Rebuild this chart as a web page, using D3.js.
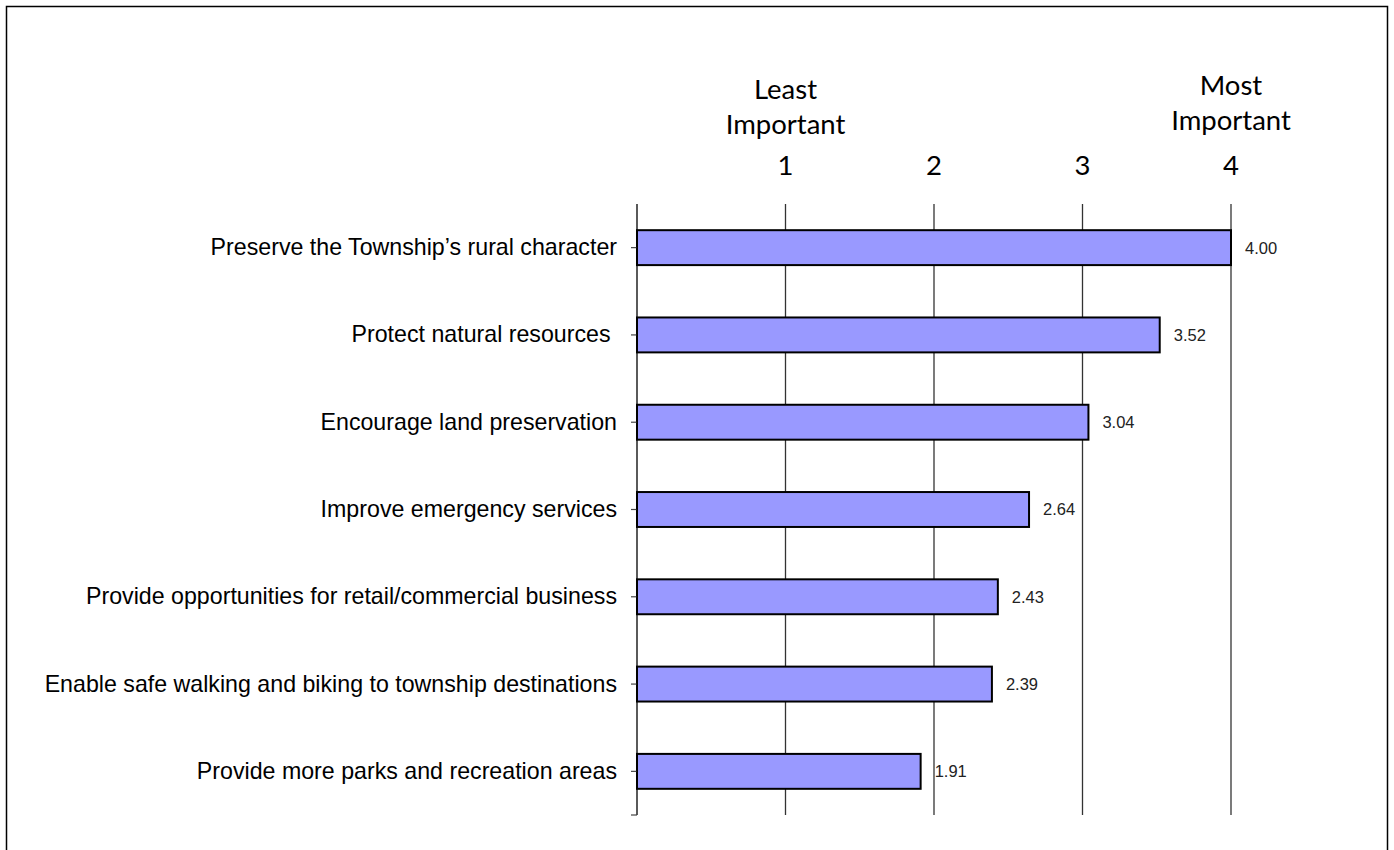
<!DOCTYPE html>
<html>
<head>
<meta charset="utf-8">
<script src="https://cdn.jsdelivr.net/npm/d3@7/dist/d3.min.js"></script>
<style>
  html, body { margin: 0; padding: 0; background: #fff; }
  svg { display: block; }
  text { white-space: pre; }
</style>
</head>
<body>
<svg id="chart" width="1394" height="850"></svg>
<script>
const categories = [
  "Preserve the Township\u2019s rural character",
  "Protect natural resources ",
  "Encourage land preservation",
  "Improve emergency services",
  "Provide opportunities for retail/commercial business",
  "Enable safe walking and biking to township destinations",
  "Provide more parks and recreation areas"
];
const values = [4.00, 3.52, 3.04, 2.64, 2.43, 2.39, 1.91];
const tickValues = [1, 2, 3, 4];
const endLabels = [
  { at: 1, lines: ["Least", "Important"] },
  { at: 4, lines: ["Most", "Important"] }
];

const svg = d3.select("#chart");

svg.append("rect")
  .attr("x", 6.5).attr("y", 6.5)
  .attr("width", 1381).attr("height", 860)
  .attr("fill", "none").attr("stroke", "#000").attr("stroke-width", 1.5);

const x = d3.scaleLinear().domain([0, 4]).range([637, 1231]);
const y = d3.scaleBand().domain(categories).range([204, 815])
  .paddingInner(0.6).paddingOuter(0.3);

// gridlines
svg.append("g").selectAll("line").data(tickValues).join("line")
  .attr("x1", d => x(d)).attr("x2", d => x(d))
  .attr("y1", 204).attr("y2", 815)
  .attr("stroke", "#333").attr("stroke-width", 1.3);

// top tick labels
const topG = svg.append("g").attr("font-family", "Lato, 'Open Sans', sans-serif")
  .attr("font-size", 27.5).attr("fill", "#000").attr("text-anchor", "middle");
topG.selectAll("text.num").data(tickValues).join("text").attr("class", "num")
  .attr("x", d => x(d)).attr("y", 175).text(d => d);
endLabels.forEach(l => {
  const base = l.at === 1 ? 99 : 95;
  l.lines.forEach((t, i) => {
    topG.append("text").attr("x", x(l.at)).attr("y", base + i * 35).text(t);
  });
});

// bars
svg.append("g").selectAll("rect").data(values).join("rect")
  .attr("x", x(0)).attr("y", (d, i) => y(categories[i]))
  .attr("width", d => x(d) - x(0)).attr("height", y.bandwidth())
  .attr("fill", "#9999FF").attr("stroke", "#000").attr("stroke-width", 2);

// value labels
svg.append("g").selectAll("text").data(values).join("text")
  .attr("x", d => x(d) + 14)
  .attr("y", (d, i) => y(categories[i]) + y.bandwidth() / 2)
  .attr("dy", "0.36em")
  .attr("font-family", "'Liberation Sans', Arial, sans-serif")
  .attr("font-size", 16.5).attr("fill", "#222")
  .text(d => d.toFixed(2));

// left axis
const yAxis = d3.axisLeft(y).tickSize(6).tickPadding(14);
const ag = svg.append("g").attr("transform", `translate(${x(0)},0)`).call(yAxis);
ag.select(".domain").remove();
ag.selectAll(".tick line").attr("stroke", "#444").attr("stroke-width", 1.2);
ag.selectAll(".tick text")
  .attr("font-family", "'Liberation Sans', Arial, sans-serif")
  .attr("font-size", 23.2).attr("fill", "#000");
ag.append("line").attr("x1", 0).attr("x2", 0).attr("y1", 204).attr("y2", 815)
  .attr("stroke", "#000").attr("stroke-width", 1.3);
ag.append("line").attr("x1", -6).attr("x2", 0).attr("y1", 815).attr("y2", 815)
  .attr("stroke", "#444").attr("stroke-width", 1.2);
</script>
</body>
</html>
